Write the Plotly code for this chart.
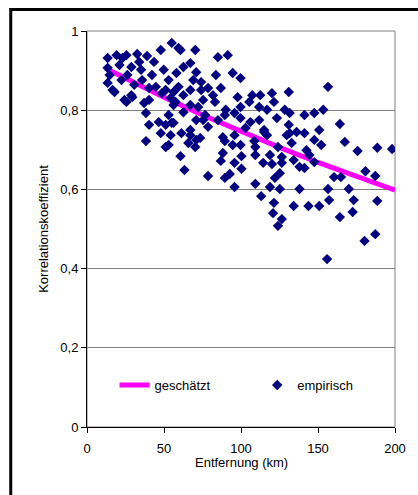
import plotly.graph_objects as go

# empirical correlation vs distance (km)
dist_km = [13.4, 19.2, 23.0, 25.6, 32.6, 39.0, 47.9, 55.0, 59.4, 60.7, 70.3, 85.0, 91.4, 83.7, 94.6, 99.7, 86.9,
           156.5, 131.0, 131.6, 141.2, 147.6, 153.4, 164.2, 150.8, 136.1, 141.2, 167.4, 175.7, 188.5, 198.1,
           180.8, 187.2, 160.4, 164.9, 138.0, 156.5, 170.0, 173.2, 188.5, 157.2, 134.2, 143.8, 150.8, 142.5,
           144.4, 147.6, 134.2, 138.0, 141.2, 131.6, 132.9, 121.4, 120.8, 126.5, 124.0, 164.2, 172.5, 180.2,
           187.2, 155.9, 47.9, 53.0, 51.1, 60.7, 63.3, 78.6, 89.5, 95.8, 94.6, 99.7, 88.2, 86.9, 100.3, 95.8,
           100.3, 92.7, 89.5, 95.8, 109.3, 113.1, 118.8, 125.2, 108.6, 109.3, 109.3, 114.4, 118.8, 120.1,
           124.0, 126.5, 126.5, 125.2, 122.0, 115.0, 116.9, 129.7, 61.3, 67.1, 70.9, 73.5, 65.8, 70.3,
           13.4, 14.7, 13.4, 17.9, 24.3, 29.4, 22.4, 21.1, 28.8, 35.1, 26.2, 35.8, 42.2, 44.7, 48.6, 40.3,
           37.1, 53.0, 58.1, 62.6, 67.1, 59.4, 54.3, 56.2, 62.6, 67.1, 69.0, 70.9, 38.3, 40.3, 56.2, 62.6,
           67.1, 70.9, 67.1, 54.3, 74.1, 81.8, 97.8, 107.3, 112.5, 120.1, 83.1, 90.1, 99.7, 105.4, 111.8,
           121.4, 116.9, 128.4, 123.3, 131.0, 115.0, 106.1, 99.7, 95.8, 89.5, 85.0, 76.7, 75.4, 78.6, 88.2,
           74.1, 75.4, 72.2, 38.3, 51.1, 55.0, 16.6, 25.6, 28.8, 46.6, 53.0, 57.5, 56.2, 51.1,
           33.9, 43.5, 49.8, 30.7, 40.3, 78.6, 102.9, 111.8, 147.6, 152.1]
korr_emp = [0.932, 0.939, 0.932, 0.939, 0.942, 0.937, 0.952, 0.970, 0.957, 0.952, 0.952, 0.934, 0.939, 0.889,
            0.894, 0.881, 0.856, 0.859, 0.846, 0.793, 0.788, 0.793, 0.801, 0.765, 0.750, 0.745, 0.742, 0.720,
            0.697, 0.705, 0.702, 0.646, 0.634, 0.631, 0.631, 0.601, 0.601, 0.601, 0.573, 0.571, 0.573, 0.558,
            0.558, 0.558, 0.699, 0.687, 0.669, 0.674, 0.657, 0.654, 0.742, 0.717, 0.566, 0.540, 0.525, 0.508,
            0.530, 0.543, 0.470, 0.487, 0.424, 0.742, 0.712, 0.707, 0.684, 0.649, 0.634, 0.722, 0.737, 0.712,
            0.712, 0.692, 0.672, 0.684, 0.667, 0.652, 0.639, 0.629, 0.606, 0.614, 0.583, 0.606, 0.601, 0.722,
            0.707, 0.687, 0.667, 0.687, 0.664, 0.707, 0.682, 0.667, 0.641, 0.629, 0.745, 0.737, 0.737, 0.742,
            0.737, 0.725, 0.730, 0.717, 0.707, 0.907, 0.889, 0.869, 0.846, 0.826, 0.833, 0.876, 0.914, 0.909,
            0.902, 0.889, 0.876, 0.889, 0.859, 0.843, 0.826, 0.818, 0.876, 0.894, 0.909, 0.919, 0.859, 0.831,
            0.813, 0.838, 0.851, 0.876, 0.896, 0.793, 0.763, 0.768, 0.795, 0.813, 0.775, 0.750, 0.737, 0.871,
            0.838, 0.833, 0.838, 0.838, 0.843, 0.821, 0.801, 0.808, 0.821, 0.808, 0.821, 0.801, 0.801, 0.780,
            0.763, 0.750, 0.770, 0.780, 0.793, 0.788, 0.775, 0.788, 0.775, 0.758, 0.732, 0.851, 0.826, 0.808,
            0.722, 0.763, 0.768, 0.851, 0.821, 0.838, 0.770, 0.788, 0.821, 0.846, 0.851,
            0.922, 0.922, 0.902, 0.864, 0.856, 0.856, 0.755, 0.775, 0.725, 0.712]

# estimated curve
dist_fit = [12, 25, 50, 75, 100, 125, 150, 175, 200]
korr_fit = [0.906, 0.880, 0.833, 0.788, 0.746, 0.706, 0.668, 0.632, 0.598]

x_ticks = [0, 50, 100, 150, 200]
y_ticks = [0, 0.2, 0.4, 0.6, 0.8, 1]

FONT = "Liberation Sans, Arial, sans-serif"

fig = go.Figure()
fig.add_trace(go.Scatter(x=dist_fit, y=korr_fit, mode="lines", name="geschätzt",
                         line=dict(color="#FF00FF", width=5), legend="legend"))
fig.add_trace(go.Scatter(x=dist_km, y=korr_emp, mode="markers", name="empirisch",
                         marker=dict(symbol="diamond", size=8, color="#000080", line=dict(width=0)),
                         legend="legend2"))

W, H = 418, 495
L, R, T, B = 87, 18, 31, 68
pw, ph = W - L - R, H - T - B

def px_x(px):
    return (px - L) / pw

def px_y(py):
    return (H - B - py) / ph

leg_common = dict(orientation="h", yanchor="middle", xanchor="left",
                  bgcolor="rgba(0,0,0,0)", borderwidth=0, font=dict(size=13), itemwidth=30)

fig.update_layout(
    width=W, height=H,
    margin=dict(l=L, r=R, t=T, b=B, pad=0),
    paper_bgcolor="white", plot_bgcolor="white",
    separators=", ",
    font=dict(family=FONT, size=13, color="black"),
    showlegend=True,
    hovermode=False,
    legend=dict(x=px_x(115), y=px_y(385), **leg_common),
    legend2=dict(x=px_x(260), y=px_y(385), **leg_common),
    xaxis=dict(range=[0, 200], tickvals=x_ticks, showgrid=False, zeroline=False,
               showline=True, linecolor="black", linewidth=1,
               ticks="outside", ticklen=5, tickcolor="black", tickfont=dict(size=13),
               ticklabelstandoff=4, fixedrange=True),
    yaxis=dict(range=[0, 1], tickvals=y_ticks, showgrid=True, gridcolor="#808080", gridwidth=1,
               zeroline=False, showline=True, linecolor="black", linewidth=1,
               ticks="outside", ticklen=5, tickcolor="black", tickfont=dict(size=13),
               title=dict(text="Korrelationskoeffizient", font=dict(size=13), standoff=8),
               fixedrange=True),
    annotations=[dict(text="Entfernung (km)", xref="paper", yref="paper",
                      x=0.5, y=px_y(463), xanchor="center", yanchor="middle",
                      showarrow=False, font=dict(size=13))],
    shapes=[
        # gray plot border (top/right)
        dict(type="rect", xref="paper", yref="paper", x0=0, x1=1, y0=0, y1=1,
             line=dict(color="#808080", width=1), layer="below"),
        # outer frame
        dict(type="rect", xref="paper", yref="paper", x0=px_x(9.5), x1=px_x(430),
             y0=px_y(520), y1=px_y(9.5), line=dict(color="black", width=3), layer="above"),
    ],
)

fig.write_html("out.html")
